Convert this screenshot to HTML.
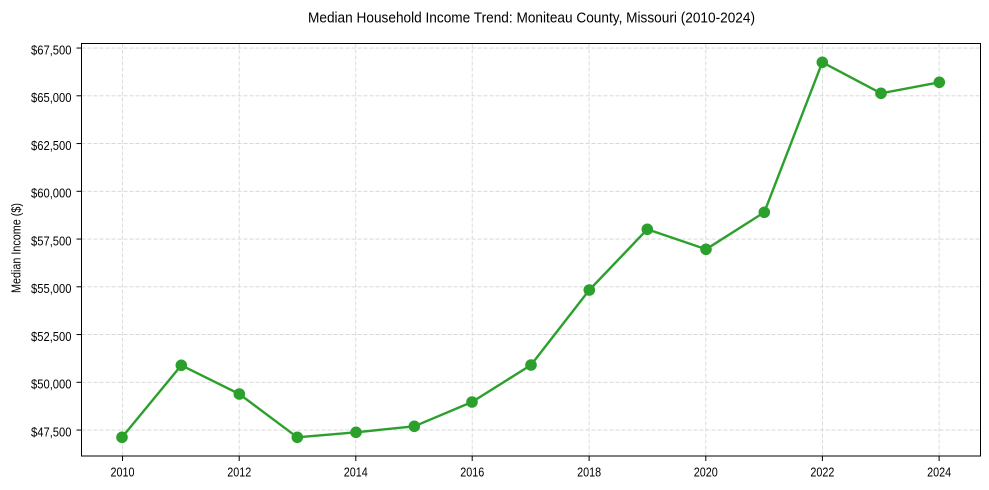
<!DOCTYPE html>
<html>
<head>
<meta charset="utf-8">
<style>
html,body{margin:0;padding:0;background:#fff;}
svg{display:block;}
text{font-family:"Liberation Sans",Arial,sans-serif;fill:#000;}
</style>
</head>
<body>
<svg width="989" height="490" viewBox="0 0 989 490" xmlns="http://www.w3.org/2000/svg">
<rect x="0" y="0" width="989" height="490" fill="#fff"/>
<!-- grid -->
<g stroke="#d3d3d3" stroke-width="0.8" stroke-dasharray="4,2" fill="none">
<line x1="81.5" x2="980.5" y1="430.05" y2="430.05"/>
<line x1="81.5" x2="980.5" y1="382.3" y2="382.3"/>
<line x1="81.5" x2="980.5" y1="334.55" y2="334.55"/>
<line x1="81.5" x2="980.5" y1="286.8" y2="286.8"/>
<line x1="81.5" x2="980.5" y1="239.05" y2="239.05"/>
<line x1="81.5" x2="980.5" y1="191.3" y2="191.3"/>
<line x1="81.5" x2="980.5" y1="143.55" y2="143.55"/>
<line x1="81.5" x2="980.5" y1="95.8" y2="95.8"/>
<line x1="81.5" x2="980.5" y1="48.05" y2="48.05"/>
<line y1="43.5" y2="456" x1="122.5" x2="122.5"/>
<line y1="43.5" y2="456" x1="239.2" x2="239.2"/>
<line y1="43.5" y2="456" x1="355.8" x2="355.8"/>
<line y1="43.5" y2="456" x1="472.2" x2="472.2"/>
<line y1="43.5" y2="456" x1="589.1" x2="589.1"/>
<line y1="43.5" y2="456" x1="705.8" x2="705.8"/>
<line y1="43.5" y2="456" x1="822.4" x2="822.4"/>
<line y1="43.5" y2="456" x1="939.1" x2="939.1"/>
</g>
<!-- series -->
<polyline fill="none" stroke="#2ca02c" stroke-width="2.4" stroke-linejoin="round"
points="122,437.3 181.3,365.3 239.3,394 297.3,437.3 356,432.3 414.3,426.3 472,402 531,365 589.3,290 647.3,229.3 706,249.3 764.3,212.3 822.3,62.3 881,93.3 939.3,82.3"/>
<g fill="#2ca02c">
<circle cx="122" cy="437.3" r="5.8"/>
<circle cx="181.3" cy="365.3" r="5.8"/>
<circle cx="239.3" cy="394" r="5.8"/>
<circle cx="297.3" cy="437.3" r="5.8"/>
<circle cx="356" cy="432.3" r="5.8"/>
<circle cx="414.3" cy="426.3" r="5.8"/>
<circle cx="472" cy="402" r="5.8"/>
<circle cx="531" cy="365" r="5.8"/>
<circle cx="589.3" cy="290" r="5.8"/>
<circle cx="647.3" cy="229.3" r="5.8"/>
<circle cx="706" cy="249.3" r="5.8"/>
<circle cx="764.3" cy="212.3" r="5.8"/>
<circle cx="822.3" cy="62.3" r="5.8"/>
<circle cx="881" cy="93.3" r="5.8"/>
<circle cx="939.3" cy="82.3" r="5.8"/>
</g>
<!-- frame -->
<rect x="81.5" y="43.5" width="899" height="412.5" fill="none" stroke="#000" stroke-width="1"/>
<!-- ticks -->
<g stroke="#000" stroke-width="1">
<line x1="76.5" x2="81.5" y1="430.05" y2="430.05"/>
<line x1="76.5" x2="81.5" y1="382.3" y2="382.3"/>
<line x1="76.5" x2="81.5" y1="334.55" y2="334.55"/>
<line x1="76.5" x2="81.5" y1="286.8" y2="286.8"/>
<line x1="76.5" x2="81.5" y1="239.05" y2="239.05"/>
<line x1="76.5" x2="81.5" y1="191.3" y2="191.3"/>
<line x1="76.5" x2="81.5" y1="143.55" y2="143.55"/>
<line x1="76.5" x2="81.5" y1="95.8" y2="95.8"/>
<line x1="76.5" x2="81.5" y1="48.05" y2="48.05"/>
<line y1="456" y2="461" x1="122.5" x2="122.5"/>
<line y1="456" y2="461" x1="239.2" x2="239.2"/>
<line y1="456" y2="461" x1="355.8" x2="355.8"/>
<line y1="456" y2="461" x1="472.2" x2="472.2"/>
<line y1="456" y2="461" x1="589.1" x2="589.1"/>
<line y1="456" y2="461" x1="705.8" x2="705.8"/>
<line y1="456" y2="461" x1="822.4" x2="822.4"/>
<line y1="456" y2="461" x1="939.1" x2="939.1"/>
</g>
<!-- y tick labels -->
<g font-size="13" text-anchor="end">
<text x="71.5" y="436.3" textLength="40.5" lengthAdjust="spacingAndGlyphs">$47,500</text>
<text x="71.5" y="388.6" textLength="40.5" lengthAdjust="spacingAndGlyphs">$50,000</text>
<text x="71.5" y="340.8" textLength="40.5" lengthAdjust="spacingAndGlyphs">$52,500</text>
<text x="71.5" y="293.1" textLength="40.5" lengthAdjust="spacingAndGlyphs">$55,000</text>
<text x="71.5" y="245.3" textLength="40.5" lengthAdjust="spacingAndGlyphs">$57,500</text>
<text x="71.5" y="197.6" textLength="40.5" lengthAdjust="spacingAndGlyphs">$60,000</text>
<text x="71.5" y="149.8" textLength="40.5" lengthAdjust="spacingAndGlyphs">$62,500</text>
<text x="71.5" y="102.1" textLength="40.5" lengthAdjust="spacingAndGlyphs">$65,000</text>
<text x="71.5" y="54.3" textLength="40.5" lengthAdjust="spacingAndGlyphs">$67,500</text>
</g>
<!-- x tick labels -->
<g font-size="13">
<text x="110.5" y="476.7" textLength="24" lengthAdjust="spacingAndGlyphs">2010</text>
<text x="227.2" y="476.7" textLength="24" lengthAdjust="spacingAndGlyphs">2012</text>
<text x="343.8" y="476.7" textLength="24" lengthAdjust="spacingAndGlyphs">2014</text>
<text x="460.2" y="476.7" textLength="24" lengthAdjust="spacingAndGlyphs">2016</text>
<text x="577.1" y="476.7" textLength="24" lengthAdjust="spacingAndGlyphs">2018</text>
<text x="693.8" y="476.7" textLength="24" lengthAdjust="spacingAndGlyphs">2020</text>
<text x="810.4" y="476.7" textLength="24" lengthAdjust="spacingAndGlyphs">2022</text>
<text x="927.1" y="476.7" textLength="24" lengthAdjust="spacingAndGlyphs">2024</text>
</g>
<!-- y axis label -->
<text transform="translate(20.5,293) rotate(-90)" font-size="12.5" textLength="90" lengthAdjust="spacingAndGlyphs">Median Income ($)</text>
<!-- title -->
<text x="308" y="22.5" font-size="14.5" textLength="447" lengthAdjust="spacingAndGlyphs">Median Household Income Trend: Moniteau County, Missouri (2010-2024)</text>
</svg>
</body>
</html>
